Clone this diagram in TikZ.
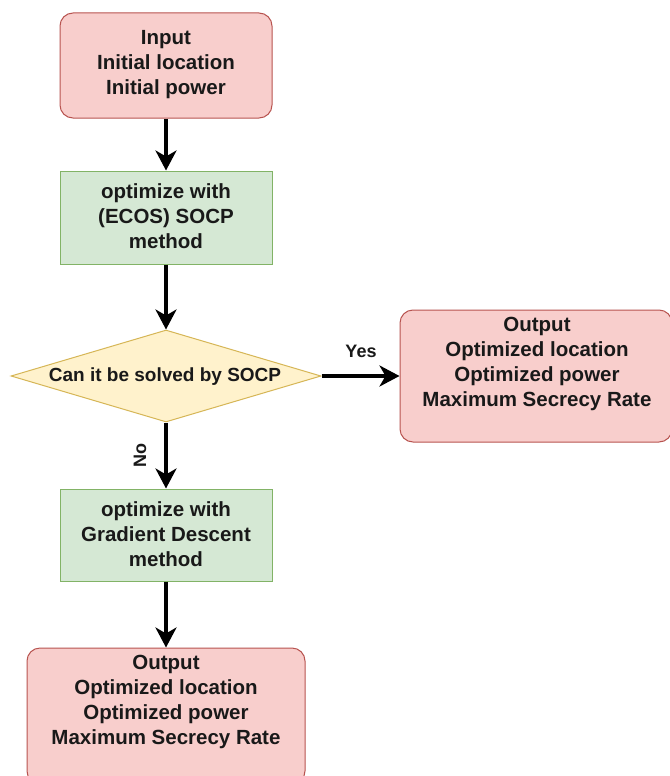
\documentclass[tikz,border=0pt]{standalone}
\usepackage{fontspec}
\setmainfont{Liberation Sans}
\usetikzlibrary{shapes.geometric,arrows.meta}
\definecolor{redfill}{HTML}{F8CECC}
\definecolor{redline}{HTML}{B85450}
\definecolor{greenfill}{HTML}{D5E8D4}
\definecolor{greenline}{HTML}{82B366}
\definecolor{yellowfill}{HTML}{FFF2CC}
\definecolor{yellowline}{HTML}{D6B656}
\begin{document}
\begin{tikzpicture}[x=1pt,y=-1pt,
  redbox/.style={draw=redline, fill=redfill, rounded corners=13pt, line width=1pt, inner sep=0pt},
  greenbox/.style={draw=greenline, fill=greenfill, line width=1pt, inner sep=0pt},
  decbox/.style={draw=yellowline, fill=yellowfill, line width=1pt, inner sep=0pt, diamond},
  txt/.style={font=\fontsize{20.5}{25}\selectfont\bfseries, align=center, inner sep=0pt, text=black!90},
  dtxt/.style={font=\fontsize{19}{23}\selectfont\bfseries, inner sep=0pt, text=black!90},
  lbl/.style={font=\fontsize{18}{22}\selectfont\bfseries, inner sep=0pt, text=black!90},
  arr/.style={line width=3.4pt, -{Stealth[length=20pt,width=21pt,inset=6pt]}}
]
\useasboundingbox[fill=white] (0,0) rectangle (669,776);

\node[redbox, minimum width=212pt, minimum height=105pt] (input) at (166,65.5) {};
\node[txt] (inputtxt) at (166,65) {Input\\Initial location\\Initial power};

\node[greenbox, minimum width=212pt, minimum height=93pt] (opt1) at (166,217.5) {};
\node[txt] (opt1txt) at (166,216) {optimize with\\(ECOS) SOCP\\method};

\node[decbox, minimum width=310pt, minimum height=92pt] (dec) at (166,376) {};
\node[dtxt] (dectxt) at (165,377) {Can it be solved by SOCP};

\node[redbox, minimum width=272pt, minimum height=132pt] (outR) at (536,376) {};
\node[txt] (outRtxt) at (537,364) {Output\\Optimized location\\Optimized power\\Maximum Secrecy Rate};

\node[greenbox, minimum width=212pt, minimum height=92pt] (opt2) at (166,535) {};
\node[txt] (opt2txt) at (166,534) {optimize with\\Gradient Descent\\method};

\node[redbox, minimum width=278pt, minimum height=136pt] (outB) at (166,716) {};
\node[txt] (outBtxt) at (166,702) {Output\\Optimized location\\Optimized power\\Maximum Secrecy Rate};

\draw[arr] (input) -- (opt1);
\draw[arr] (opt1) -- (dec);
\draw[arr] (dec.east) -- (outR.west);
\draw[arr] (dec.south) -- (opt2);
\draw[arr] (opt2) -- (outB);

\node[lbl] (yes) at (361,351) {Yes};
\node[lbl, rotate=90] (no) at (140,455) {No};
\end{tikzpicture}
\end{document}
